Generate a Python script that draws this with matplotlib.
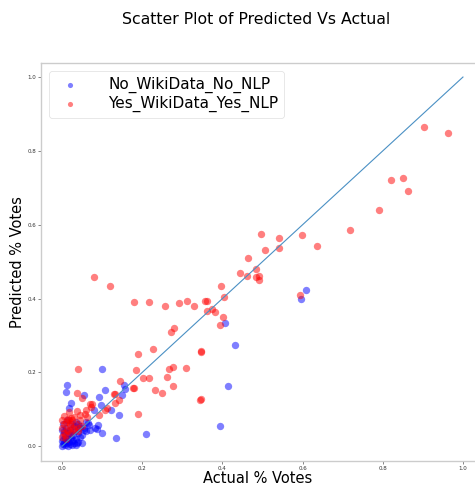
import matplotlib
matplotlib.use("Agg")
import matplotlib.pyplot as plt

# actual vs predicted vote shares for the two model variants
no_wiki_actual = [0.6075, 0.595, 0.4075, 0.4325, 0.415, 0.395, 0.21, 0.135, 0.1, 0.0125,
                  0.01, 0.155, 0.1575, 0.15, 0.1075, 0.0925, 0.055, 0.0225, 0.0175, 0.0975,
                  0.08, 0.1225, 0.1425, 0.1, 0.065, 0.09, 0.0875, 0.0825, 0.055, 0.0675,
                  0.0, 0.003, 0.005, 0.008, 0.01, 0.012, 0.015, 0.018, 0.02, 0.022,
                  0.025, 0.028, 0.03, 0.032, 0.035, 0.04, 0.04, 0.045, 0.05, 0.05,
                  0.055, 0.06, 0.003, 0.005, 0.002, 0.01, 0.015, 0.02, 0.025, 0.03,
                  0.035, 0.04, 0.008, 0.0, 0.001, 0.012, 0.02, 0.028, 0.045, 0.038,
                  0.015, 0.025, 0.035, 0.002, 0.045, 0.07, 0.06]
no_wiki_pred = [0.423, 0.398, 0.333, 0.274, 0.163, 0.054, 0.033, 0.022, 0.209, 0.165,
                0.146, 0.165, 0.154, 0.138, 0.152, 0.133, 0.138, 0.117, 0.103, 0.111,
                0.098, 0.098, 0.084, 0.035, 0.062, 0.057, 0.046, 0.05, 0.05, 0.058,
                0.0, 0.005, 0.01, 0.003, 0.015, 0.008, 0.02, 0.012, 0.005, 0.025,
                0.015, 0.03, 0.01, 0.04, 0.02, 0.035, 0.012, 0.05, 0.03, 0.01,
                0.045, 0.04, 0.03, 0.04, 0.06, 0.05, 0.035, 0.045, 0.06, 0.055,
                0.065, 0.06, 0.022, 0.015, 0.045, 0.07, 0.03, 0.018, 0.025, 0.008,
                0.0, 0.002, 0.003, 0.02, 0.055, 0.045, 0.065]

yes_wiki_actual = [0.9025, 0.9625, 0.82, 0.85, 0.8625, 0.79, 0.7175, 0.635, 0.5975, 0.54,
                   0.495, 0.505, 0.54, 0.465, 0.485, 0.445, 0.4625, 0.485, 0.49, 0.49,
                   0.5925, 0.3975, 0.405, 0.3575, 0.3625, 0.3625, 0.375, 0.3825, 0.4025, 0.395,
                   0.3475, 0.3475, 0.08, 0.12, 0.18, 0.2175, 0.2575, 0.2925, 0.3125, 0.33,
                   0.28, 0.2725, 0.2275, 0.19, 0.3475, 0.04, 0.185, 0.2675, 0.2775, 0.31,
                   0.2025, 0.2175, 0.2625, 0.2775, 0.2325, 0.25, 0.345, 0.1775, 0.18, 0.19,
                   0.145, 0.1325, 0.13, 0.1425, 0.1325, 0.0375, 0.05, 0.07, 0.075, 0.06,
                   0.0375, 0.045, 0.0625, 0.0925, 0.1075, 0.1125, 0.0225, 0.0175, 0.005, 0.0725,
                   0.0575, 0.0, 0.005, 0.01, 0.015, 0.02, 0.025, 0.03, 0.035, 0.008,
                   0.012, 0.018, 0.022, 0.03, 0.04, 0.045, 0.05, 0.0, 0.005, 0.015,
                   0.02, 0.027, 0.01, 0.0, 0.04]
yes_wiki_pred = [0.864, 0.848, 0.721, 0.726, 0.691, 0.64, 0.585, 0.542, 0.572, 0.564,
                 0.575, 0.531, 0.537, 0.509, 0.48, 0.469, 0.461, 0.458, 0.461, 0.45,
                 0.409, 0.434, 0.404, 0.393, 0.393, 0.366, 0.371, 0.363, 0.35, 0.328,
                 0.255, 0.127, 0.458, 0.434, 0.39, 0.39, 0.379, 0.388, 0.393, 0.379,
                 0.32, 0.309, 0.263, 0.249, 0.257, 0.209, 0.206, 0.209, 0.214, 0.211,
                 0.184, 0.184, 0.187, 0.163, 0.152, 0.144, 0.125, 0.157, 0.157, 0.087,
                 0.176, 0.141, 0.141, 0.125, 0.117, 0.144, 0.13, 0.114, 0.114, 0.098,
                 0.095, 0.084, 0.079, 0.084, 0.098, 0.103, 0.076, 0.092, 0.081, 0.105,
                 0.086, 0.05, 0.06, 0.065, 0.04, 0.055, 0.07, 0.045, 0.06, 0.03,
                 0.045, 0.07, 0.035, 0.08, 0.05, 0.07, 0.055, 0.07, 0.035, 0.075,
                 0.06, 0.05, 0.02, 0.025, 0.04]

ticks = [0.0, 0.2, 0.4, 0.6, 0.8, 1.0]

fig = plt.figure(figsize=(4.75, 4.87), dpi=100)
ax = fig.add_axes([41 / 475, 26 / 487, 434 / 475, 398 / 487])

ax.scatter(no_wiki_actual, no_wiki_pred, color="blue", alpha=0.5, s=28,
           linewidths=0, label="No_WikiData_No_NLP")
ax.scatter(yes_wiki_actual, yes_wiki_pred, color="red", alpha=0.5, s=28,
           linewidths=0, label="Yes_WikiData_Yes_NLP")
ax.plot([0, 1], [0, 1], color="#4a90c4", linewidth=0.8)

ax.set_xlim(-0.0525, 1.03)
ax.set_ylim(-0.04, 1.038)
ax.set_xticks(ticks)
ax.set_yticks(ticks)
ax.tick_params(labelsize=4, length=2, width=0.5, pad=1.5,
               color="#555555", labelcolor="#333333")

for side in ["left", "bottom", "top"]:
    ax.spines[side].set_color("#cccccc")
    ax.spines[side].set_linewidth(1)
ax.spines["right"].set_visible(False)

ax.set_xlabel("Actual % Votes", fontsize=10.5, labelpad=0)
ax.set_ylabel("Predicted % Votes", fontsize=10.5, labelpad=2)

leg = ax.legend(loc="upper left", fontsize=11, markerscale=0.7, handletextpad=1.5,
                borderpad=0.4, labelspacing=0.2, frameon=True)
leg.get_frame().set_edgecolor("#dddddd")
leg.get_frame().set_linewidth(0.6)

fig.suptitle("Scatter Plot of Predicted Vs Actual", fontsize=11.3, x=0.54, y=0.975)

fig.savefig("out.png", dpi=100)
